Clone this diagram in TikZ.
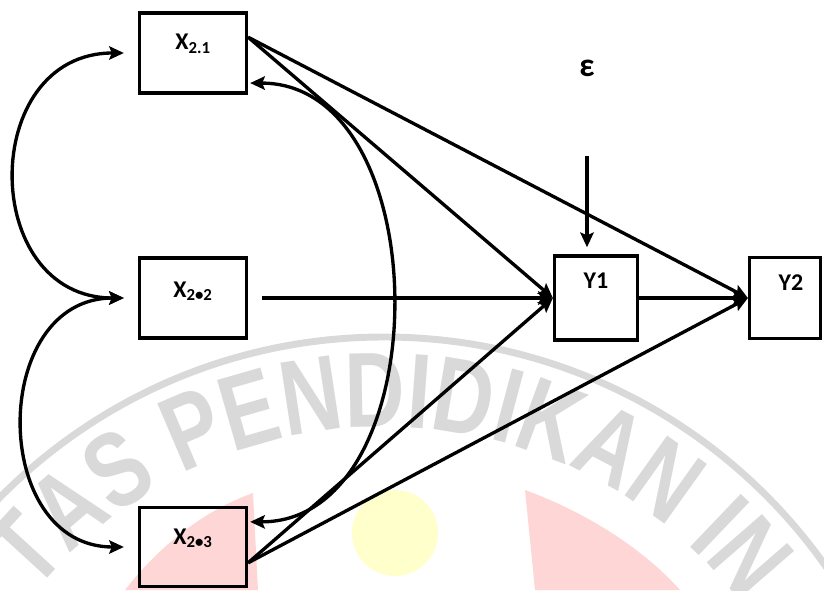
\documentclass[tikz,border=0pt]{standalone}
\usepackage{fontspec}
\setmainfont{Carlito}
\newfontfamily\wmfont{Liberation Sans}[FakeStretch=0.78]
\usetikzlibrary{arrows.meta,decorations.text}
\definecolor{wmgray}{RGB}{217,217,217}
\definecolor{wmpink}{RGB}{255,214,214}
\definecolor{wmyellow}{RGB}{255,255,204}
\tikzset{
	box/.style={draw, line width=2.7pt, minimum width=80pt, minimum height=60.4pt, inner sep=0pt},
	lbl/.style={font=\bfseries\fontsize{18}{21}\selectfont, anchor=base, inner sep=0pt},
	arr/.style={line width=2.5pt, -{Stealth[length=11pt, width=10pt, inset=2pt]}},
	darr/.style={line width=2.5pt, {Stealth[length=11pt, width=10pt, inset=2pt]}-{Stealth[length=11pt, width=10pt, inset=2pt]}}
}

\begin{document}
\begin{tikzpicture}[x=0.75pt, y=0.75pt]
			%%%%% START %%%%%
			
			\useasboundingbox (0,0) rectangle (824,590);
			
			% logo in the background
			\begin{scope}
				\clip (0,0) rectangle (824,590);
				\fill[wmpink] (525,100) .. controls (580,80) and (640,45) .. (680,0) -- (535,0) -- cycle;
				\fill[wmpink] (253,97) -- (258,0) -- (125,0) .. controls (160,45) and (205,80) .. (253,97) -- cycle;
				\fill[wmyellow] (395,57) circle (32.25pt);
				\draw[wmgray, line width=5.2pt] (384,-287) circle (405pt);
				\path[decorate, decoration={text along path, text align=center, text color=wmgray,
					text={|\wmfont\bfseries\fontsize{80}{80}\selectfont|TAS PENDIDIKAN IN}}]
					(384,-287) ++(179:337.5pt) arc[start angle=179, end angle=-1, radius=337.5pt];
			\end{scope}
			
			\node[box] (x21) at (193,537) {};
			\node[box] (x22) at (193,292) {};
			\node[box, minimum height=59pt] (x23) at (193,43) {};
			\node[box, minimum width=62pt, minimum height=63.4pt] (y1) at (596,292) {};
			\node[box, minimum width=53pt, minimum height=61pt] (y2) at (785,292) {};
			
			\node[lbl] (x21t) at (193,540) {X\textsubscript{2.1}};
			\node[lbl] (x22t) at (193,293) {X\textsubscript{2•2}};
			\node[lbl] (x23t) at (193,46) {X\textsubscript{2•3}};
			\node[lbl] (y1t) at (596,302) {Y1};
			\node[lbl] (y2t) at (791,300) {Y2};
			\node[lbl, font=\bfseries\fontsize{25}{28}\selectfont] (eps) at (587,513) {ε};
			
			\draw[arr] (x21.16) -- (y1.west);
			\draw[arr] (x21.16) -- (y2.west);
			\draw[arr] ([xshift=10.5pt]x22.east) -- (y1.west);
			\draw[arr] (y1) -- (y2);
			\draw[arr] (x23.-16) -- (y1.west);
			\draw[arr] (x23.-16) -- (y2.west);
			
			\coordinate (eps0) at (587,434);
			\draw[arr, shorten >=5pt] (eps0) -- (eps0 |- y1.north);
			
			\draw[darr] ([xshift=-10.5pt]x21.west) .. controls +(-109pt,0) and +(-109pt,0) .. ([xshift=-10.5pt]x22.west);
			\draw[darr] ([xshift=-10.5pt]x22.west) .. controls +(-101pt,0) and +(-101pt,0) .. ([xshift=-10.5pt]x23.west);
			\draw[darr] ([xshift=1.5pt,yshift=9pt]x21.south east) .. controls +(142pt,0) and +(142pt,0) .. ([xshift=1.5pt,yshift=-12pt]x23.north east);
			
			%%%%% END %%%%%
\end{tikzpicture}
\end{document}
